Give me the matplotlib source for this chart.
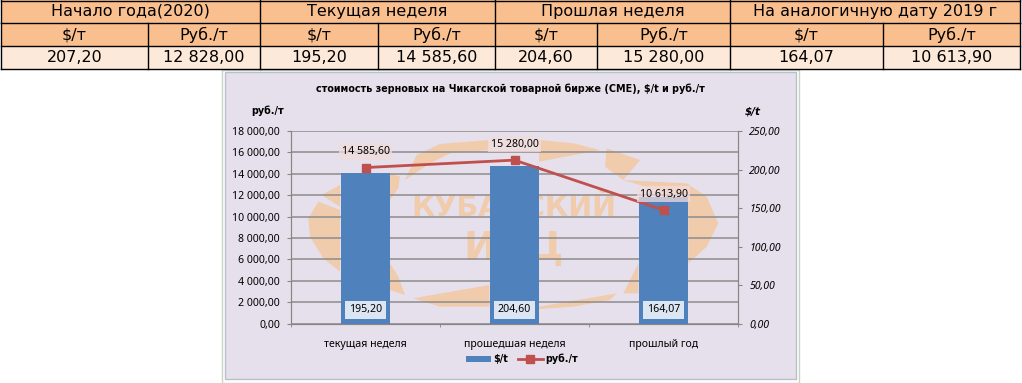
import matplotlib
matplotlib.use('Agg')
import matplotlib.pyplot as plt
from matplotlib.patches import Rectangle, Polygon

W, H = 1022, 383

groups = ['Начало года(2020)', 'Текущая неделя', 'Прошлая неделя', 'На аналогичную дату 2019 г']
units = ['$/т', 'Руб./т'] * 4
table_values = ['207,20', '12 828,00', '195,20', '14 585,60', '204,60', '15 280,00', '164,07', '10 613,90']

categories = ['текущая неделя', 'прошедшая неделя', 'прошлый год']
usd = [195.20, 204.60, 164.07]
rub = [14585.60, 15280.00, 10613.90]
usd_labels = ['195,20', '204,60', '164,07']
rub_labels = ['14 585,60', '15 280,00', '10 613,90']
left_ticks = [0, 2000, 4000, 6000, 8000, 10000, 12000, 14000, 16000, 18000]
right_ticks = [0, 50, 100, 150, 200, 250]

def fmt(v):
    return f'{v:,.2f}'.replace(',', ' ').replace('.', ',')

fig = plt.figure(figsize=(W / 100, H / 100), dpi=100)
bg = fig.add_axes([0, 0, 1, 1])
bg.set_xlim(0, W)
bg.set_ylim(H, 0)
bg.axis('off')

# table on top
font = 'DejaVu Sans'
font2 = 'Noto Sans'
xs = [1, 148, 260, 378, 495, 597, 730, 883, 1020]
group_xs = [1, 260, 495, 730, 1020]
rows = [0.5, 23, 46, 69]
bg.add_patch(Rectangle((1, 0), 1019, 46, fc='#fabf8f', ec='none'))
bg.add_patch(Rectangle((1, 46), 1019, 23, fc='#fde9d9', ec='none'))
for y in rows:
    bg.plot([1, 1020], [y, y], color='black', lw=1, clip_on=False)
for x in xs:
    bg.plot([x, x], [23, 69], color='black', lw=1)
for x in group_xs:
    bg.plot([x, x], [0, 23], color='black', lw=1)
for i, t in enumerate(groups):
    bg.text((group_xs[i] + group_xs[i + 1]) / 2, 11.5, t, ha='center', va='center', fontsize=11.5, family=font)
for i in range(8):
    cx = (xs[i] + xs[i + 1]) / 2
    bg.text(cx, 34.5, units[i], ha='center', va='center', fontsize=11.5, family=font)
    bg.text(cx, 58, table_values[i], ha='center', va='center', fontsize=11.5, family=font)

# chart panel
bg.add_patch(Rectangle((222, 70), 577, 313, fc='white', ec='#c8d4c8', lw=1))
bg.add_patch(Rectangle((225, 72), 571, 307, fc='#e6e0ec', ec='#b8c0c8', lw=1))
# Noto Sans comes out regular weight here, so the bold texts use DejaVu
bg.text(510, 89, 'стоимость зерновых на Чикагской товарной бирже (CME), $/t и руб./т',
        ha='center', va='center', fontsize=6.9, fontweight='bold', family=font)
bg.text(268, 111, 'руб./т', ha='center', va='center', fontsize=6.9, fontweight='bold', family=font)
bg.text(753, 111, '$/t', ha='center', va='center', fontsize=7.5, fontweight='bold', style='italic', family=font)

# watermark, traced in crop pixels (3x, origin 290,130)
wm = '#f0cbac'
arcs = [
    [(150, 165), (95, 195), (150, 230)],
    [(150, 240), (85, 215), (55, 265), (60, 320), (100, 385), (150, 425)],
    [(300, 130), (330, 140), (325, 175), (300, 210)],
    [(300, 400), (325, 440), (345, 495), (300, 480)],
    [(345, 150), (380, 75), (450, 42), (598, 30), (598, 60), (480, 70), (420, 100)],
    [(747, 30), (850, 40), (930, 60), (747, 95)],
    [(950, 55), (1050, 90), (1000, 150), (945, 110)],
    [(1000, 150), (1190, 160), (1250, 200), (1285, 280), (1250, 350), (1195, 400), (1195, 240), (1100, 180)],
    [(1045, 400), (1000, 490), (1045, 490)],
    [(370, 505), (598, 465), (598, 530), (450, 530)],
    [(747, 530), (980, 490), (960, 510), (850, 530), (747, 537)],
]
for pts in arcs:
    bg.add_patch(Polygon([(290 + px / 3, 130 + py / 3) for px, py in pts], closed=True, fc=wm, ec='none'))
bg.text(514, 208, 'КУБАНСКИЙ', ha='center', va='center', fontsize=20.5, fontweight='bold', color=wm, family=font)
bg.text(514, 249, 'ИКЦ', ha='center', va='center', fontsize=28, fontweight='bold', color=wm, family=font)

ax_l, ax_r, ax_t, ax_b = 291, 738, 131, 323.7
pos = [ax_l / W, 1 - ax_b / H, (ax_r - ax_l) / W, (ax_b - ax_t) / H]
ax = fig.add_axes(pos)
ax.patch.set_alpha(0)
ax2 = ax.twinx()
ax.set_xlim(-0.5, 2.5)
ax.set_ylim(0, 18000)
ax2.set_ylim(0, 250)

ax.set_yticks(left_ticks)
ax.set_yticklabels([fmt(v) for v in left_ticks], fontsize=7.6, family=font2)
ax2.set_yticks(right_ticks)
ax2.set_yticklabels([fmt(v) for v in right_ticks], fontsize=7.6, style='italic', family=font2)
ax.set_xticks([0, 1, 2])
ax.set_xticklabels(categories, fontsize=7.6, family=font2)
ax.set_xticks([-0.5, 0.5, 1.5, 2.5], minor=True)
ax.tick_params(axis='x', which='major', length=0, pad=11)
ax.tick_params(axis='x', which='minor', color='#868686', length=2)
ax.tick_params(axis='y', color='#868686', length=3, pad=5)
ax2.tick_params(axis='y', color='#868686', length=3, pad=5)
ax.grid(axis='y', color='#8c8c8c', lw=1.1)
ax.set_axisbelow(True)
for a in (ax, ax2):
    a.spines['top'].set_visible(False)
    for s in ('left', 'right', 'bottom'):
        a.spines[s].set_color('#868686')

bars = ax2.bar([0, 1, 2], usd, width=0.335, color='#4f81bd', label='$/t', zorder=2)

# line has its own transparent axes on the rouble scale, so it lies over the bars
ax3 = fig.add_axes(pos)
ax3.set_xlim(-0.5, 2.5)
ax3.set_ylim(0, 18000)
ax3.axis('off')
line, = ax3.plot([0, 1, 2], rub, color='#c0504d', lw=2, marker='s', ms=5.8, label='руб./т')

for i in range(3):
    ax3.annotate(usd_labels[i], (i, 0), xytext=(0, 10), textcoords='offset points', ha='center', va='center',
                 fontsize=7.6, family=font2, bbox=dict(fc='#dce6f2', ec='none', pad=2.5))
    ax3.annotate(rub_labels[i], (i, rub[i]), xytext=(0, 11.5), textcoords='offset points', ha='center', va='center',
                 fontsize=7.6, family=font2, bbox=dict(fc='#f2dcdb', ec='none', pad=2, alpha=0.75))

fig.legend([bars, line], ['$/t', 'руб./т'], loc='center', bbox_to_anchor=(522 / W, 1 - 359 / H), ncol=2, frameon=False,
           prop={'size': 6.9, 'weight': 'bold', 'family': font}, handlelength=2.6, columnspacing=1, handletextpad=0.3)

fig.savefig('out.png', dpi=100)
